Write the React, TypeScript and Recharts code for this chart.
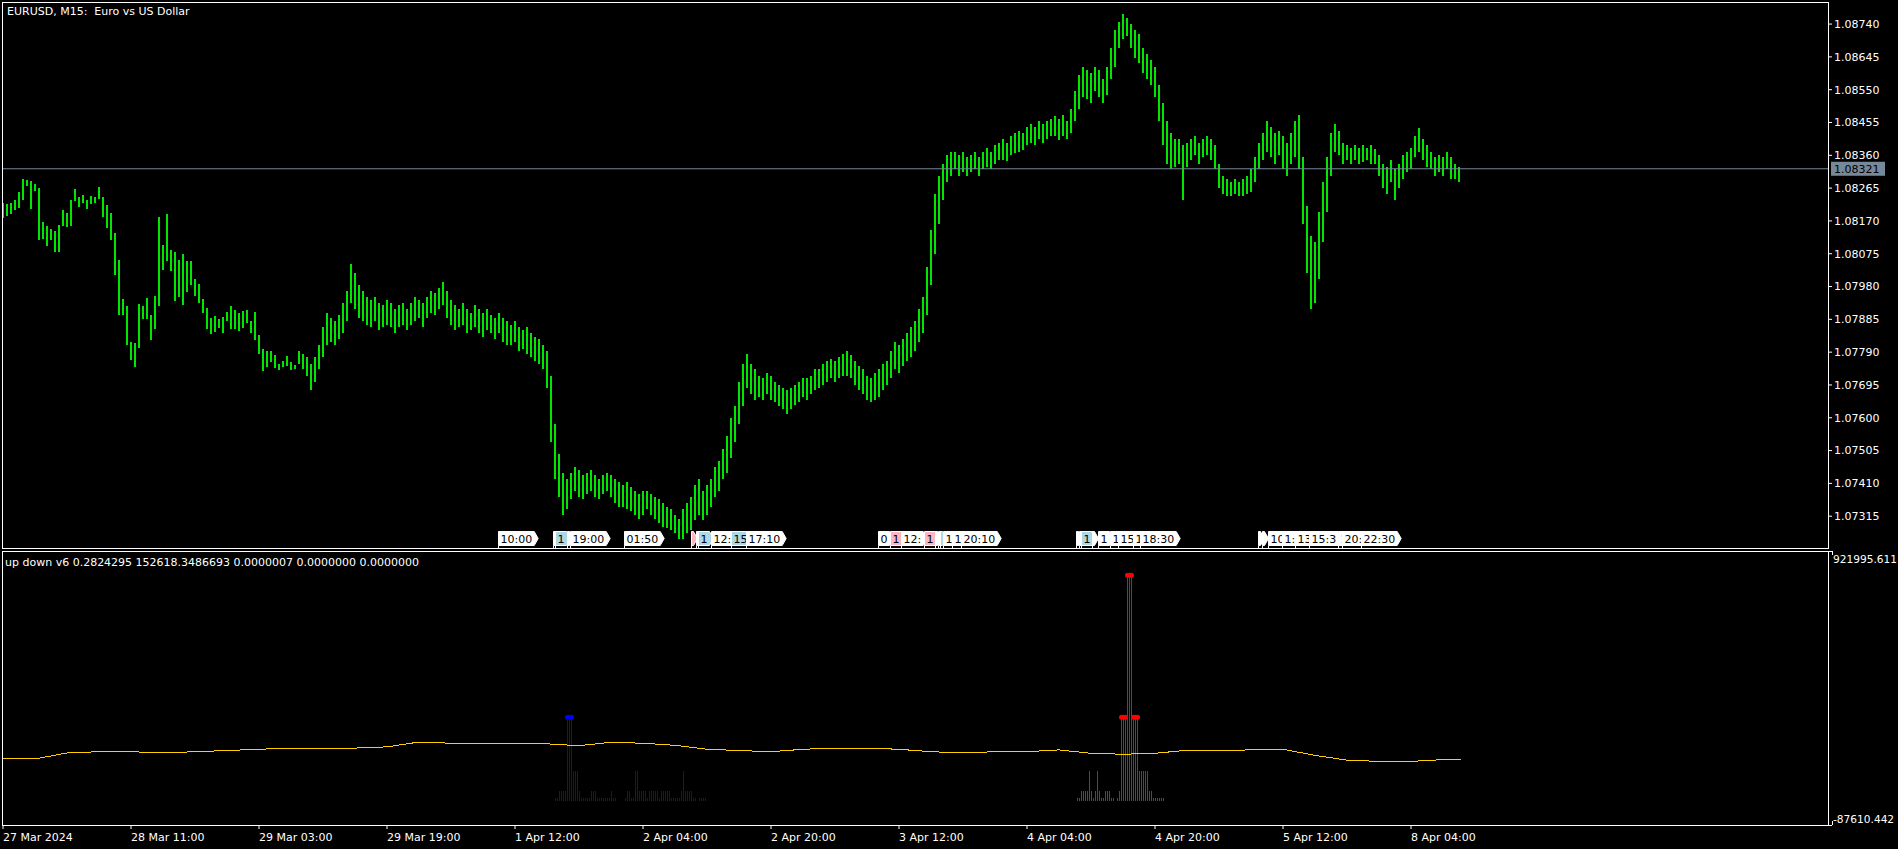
import React from 'react'
import { ComposedChart, Bar, Line, Scatter, XAxis, YAxis, ReferenceLine } from 'recharts'

const FONT = '"DejaVu Sans", Tahoma, sans-serif'

// EURUSD M15 from 27 Mar 2024 19:00, every two M15 bars drawn as one (high / low)
const barHigh = [
  1.08223, 1.08219, 1.08221, 1.08232, 1.08253, 1.0829, 1.08288, 1.08285, 1.08278, 1.08264,
  1.08167, 1.08155, 1.08146, 1.0814, 1.08158, 1.08201, 1.08192, 1.0823, 1.08261, 1.08238,
  1.08244, 1.08232, 1.08243, 1.0824, 1.08267, 1.0824, 1.08216, 1.08192, 1.08134, 1.08056,
  1.07945, 1.07924, 1.0782, 1.07817, 1.07929, 1.07923, 1.07948, 1.07897, 1.07953, 1.0818,
  1.081, 1.0819, 1.08085, 1.08081, 1.08056, 1.08074, 1.08053, 1.08053, 1.08003, 1.07987,
  1.07943, 1.07919, 1.0789, 1.07894, 1.07885, 1.07892, 1.07905, 1.07923, 1.07912, 1.07902,
  1.07909, 1.07912, 1.07881, 1.07905, 1.07841, 1.07798, 1.07792, 1.07794, 1.07781, 1.07755,
  1.07765, 1.07778, 1.07762, 1.07752, 1.07792, 1.07785, 1.07775, 1.07757, 1.07775, 1.0781,
  1.07862, 1.07904, 1.0789, 1.0788, 1.07897, 1.07933, 1.07968, 1.08045, 1.0802, 1.07985,
  1.07968, 1.0795, 1.0794, 1.0795, 1.07933, 1.07926, 1.0794, 1.07933, 1.07915, 1.07926,
  1.07933, 1.07915, 1.07933, 1.0795, 1.0794, 1.07933, 1.0795, 1.07968, 1.07961, 1.07975,
  1.07992, 1.07968, 1.0794, 1.07926, 1.07915, 1.07933, 1.07915, 1.07904, 1.07926, 1.07915,
  1.07904, 1.07915, 1.07897, 1.0789, 1.07904, 1.0789, 1.0788, 1.07869, 1.0788, 1.07862,
  1.07855, 1.07862, 1.07845, 1.07834, 1.07827, 1.0781, 1.07792, 1.07722, 1.07582, 1.07494,
  1.07441, 1.07424, 1.07441, 1.07458, 1.07448, 1.07434, 1.07441, 1.07448, 1.07434, 1.07424,
  1.07434, 1.07441, 1.07434, 1.07424, 1.07413, 1.07406, 1.07413, 1.07399, 1.07388, 1.07378,
  1.07388, 1.07388, 1.07378, 1.07371, 1.07364, 1.07353, 1.07343, 1.07336, 1.07318, 1.07307,
  1.07336, 1.07353, 1.07371, 1.07406, 1.07424, 1.07388, 1.07406, 1.07424, 1.07458, 1.07476,
  1.07511, 1.07546, 1.076, 1.07634, 1.07704, 1.07757, 1.07785, 1.07757, 1.0774, 1.07722,
  1.07715, 1.07729, 1.07722, 1.07704, 1.07694, 1.07687, 1.0768, 1.07687, 1.07694, 1.07704,
  1.07715, 1.07715, 1.07722, 1.0774, 1.0774, 1.07757, 1.07764, 1.07771, 1.07764, 1.07775,
  1.07785, 1.07792, 1.07782, 1.07764, 1.0775, 1.0774, 1.07722, 1.07715, 1.07729, 1.0774,
  1.07757, 1.07764, 1.07792, 1.0782, 1.0781, 1.07827, 1.07845, 1.07862, 1.0788, 1.07915,
  1.0795, 1.08038, 1.08143, 1.08248, 1.08301, 1.08336, 1.08361, 1.08371, 1.08371, 1.08361,
  1.08371, 1.08354, 1.08361, 1.08371, 1.08354, 1.08371, 1.08382, 1.08371, 1.08389, 1.08396,
  1.08406, 1.08396, 1.08417, 1.08424, 1.08431, 1.08424, 1.08441, 1.08452, 1.08441, 1.08459,
  1.08452, 1.08459, 1.08466, 1.08473, 1.08466, 1.08477, 1.08459, 1.08494, 1.08547, 1.08592,
  1.08617, 1.08606, 1.08599, 1.08617, 1.08606, 1.08582, 1.08617, 1.0867, 1.08722, 1.08747,
  1.08768, 1.08757, 1.0874, 1.08722, 1.08712, 1.0867, 1.08652, 1.08635, 1.08617, 1.08564,
  1.08512, 1.08459, 1.08424, 1.08406, 1.08406, 1.08389, 1.08396, 1.08406, 1.08417, 1.08396,
  1.08406, 1.08417, 1.08406, 1.08389, 1.08336, 1.08301, 1.08291, 1.08284, 1.08291, 1.08284,
  1.08291, 1.08301, 1.08319, 1.08354, 1.08396, 1.08424, 1.08459, 1.08441, 1.08424, 1.08431,
  1.08417, 1.08396, 1.08424, 1.08459, 1.08477, 1.08354, 1.08213, 1.08126, 1.08108, 1.08196,
  1.08284, 1.08354, 1.08424, 1.08452, 1.08431, 1.08396, 1.08389, 1.08382, 1.08389, 1.08382,
  1.08389, 1.08382, 1.08389, 1.08378, 1.08361, 1.08336, 1.08326, 1.08347, 1.08319, 1.08336,
  1.08361, 1.08371, 1.08382, 1.08417, 1.08438, 1.08406, 1.08389, 1.08371, 1.08354, 1.08361,
  1.08354, 1.08371, 1.08354, 1.08336, 1.08326,
]

const barLow = [
  1.08177, 1.08185, 1.0819, 1.08203, 1.08208, 1.08232, 1.08272, 1.08204, 1.08257, 1.08116,
  1.08119, 1.08098, 1.08114, 1.08081, 1.08081, 1.08155, 1.08151, 1.08155, 1.08228, 1.08211,
  1.08222, 1.08204, 1.08219, 1.08221, 1.08233, 1.08182, 1.0815, 1.08114, 1.08013, 1.07897,
  1.07897, 1.0781, 1.07767, 1.07747, 1.07803, 1.07887, 1.07887, 1.07825, 1.07856, 1.07924,
  1.08029, 1.08054, 1.08026, 1.07939, 1.0795, 1.07926, 1.07965, 1.07984, 1.07953, 1.07931,
  1.07902, 1.07858, 1.07842, 1.07849, 1.07861, 1.07846, 1.07881, 1.07858, 1.07857, 1.07852,
  1.0786, 1.07873, 1.07846, 1.07825, 1.07786, 1.07736, 1.07747, 1.07762, 1.07743, 1.07738,
  1.07747, 1.07749, 1.07738, 1.07741, 1.07757, 1.0774, 1.07722, 1.0768, 1.07704, 1.0774,
  1.07775, 1.0781, 1.0782, 1.0781, 1.07827, 1.07845, 1.0788, 1.07933, 1.07915, 1.0789,
  1.0788, 1.07869, 1.07862, 1.0788, 1.07855, 1.07862, 1.07869, 1.07862, 1.07845, 1.07862,
  1.07869, 1.07855, 1.07869, 1.0788, 1.0789, 1.07862, 1.0789, 1.07904, 1.07897, 1.07915,
  1.07926, 1.0789, 1.07869, 1.07855, 1.07862, 1.07869, 1.07845, 1.07855, 1.07862, 1.07845,
  1.07834, 1.07855, 1.07845, 1.07827, 1.07845, 1.0782, 1.0781, 1.0781, 1.0782, 1.07792,
  1.07799, 1.07785, 1.07775, 1.07764, 1.07757, 1.0774, 1.07687, 1.07529, 1.07424, 1.07371,
  1.07318, 1.07336, 1.07364, 1.07388, 1.07371, 1.07364, 1.07378, 1.07388, 1.07371, 1.07364,
  1.07378, 1.07388, 1.07371, 1.07353, 1.07343, 1.07343, 1.07336, 1.07329, 1.07318, 1.07307,
  1.07318, 1.07336, 1.07318, 1.07307, 1.07296, 1.07285, 1.07282, 1.07276, 1.07266, 1.07248,
  1.07248, 1.07266, 1.07276, 1.07303, 1.07318, 1.07303, 1.07318, 1.07343, 1.07371, 1.07388,
  1.07424, 1.07441, 1.07483, 1.07529, 1.07582, 1.07634, 1.07687, 1.07669, 1.07652, 1.07659,
  1.07652, 1.07669, 1.07652, 1.07645, 1.07634, 1.07624, 1.0761, 1.07624, 1.07638, 1.07645,
  1.07659, 1.07652, 1.07669, 1.0768, 1.07687, 1.07694, 1.07704, 1.07715, 1.07704, 1.07715,
  1.07722, 1.07722, 1.07715, 1.07694, 1.0768, 1.07669, 1.07652, 1.07645, 1.07652, 1.07659,
  1.0768, 1.07694, 1.07715, 1.0774, 1.07729, 1.0775, 1.07764, 1.07775, 1.07792, 1.0782,
  1.07845, 1.07897, 1.07985, 1.08073, 1.08161, 1.08231, 1.08284, 1.08301, 1.08319, 1.08301,
  1.08312, 1.08301, 1.08312, 1.08319, 1.08301, 1.08319, 1.08326, 1.08319, 1.08336, 1.08347,
  1.08347, 1.08343, 1.08361, 1.08368, 1.08371, 1.08375, 1.08389, 1.08396, 1.08389, 1.08406,
  1.08396, 1.08406, 1.08417, 1.08417, 1.08403, 1.08417, 1.08406, 1.08424, 1.08459, 1.08494,
  1.08529, 1.08522, 1.08512, 1.08547, 1.08529, 1.08512, 1.08536, 1.08582, 1.08617, 1.0867,
  1.08698, 1.08705, 1.0867, 1.08642, 1.08627, 1.08599, 1.08582, 1.08564, 1.08529, 1.08459,
  1.08389, 1.08336, 1.08319, 1.08326, 1.08336, 1.08231, 1.08326, 1.08347, 1.08361, 1.08336,
  1.08354, 1.08361, 1.08347, 1.08319, 1.08266, 1.08248, 1.08241, 1.08241, 1.08248, 1.08241,
  1.08241, 1.08248, 1.08255, 1.08284, 1.08319, 1.08347, 1.08371, 1.08354, 1.08336, 1.08361,
  1.08319, 1.08301, 1.08336, 1.08354, 1.08319, 1.08161, 1.0802, 1.07915, 1.07933, 1.08003,
  1.08108, 1.08196, 1.08301, 1.08371, 1.08361, 1.08336, 1.08347, 1.08336, 1.08347, 1.08336,
  1.0834, 1.08347, 1.08336, 1.08336, 1.08301, 1.08266, 1.08248, 1.08284, 1.08231, 1.08266,
  1.08291, 1.08312, 1.08319, 1.08354, 1.08371, 1.08347, 1.08326, 1.08319, 1.08301, 1.08312,
  1.08301, 1.08319, 1.08291, 1.08291, 1.08284,
]

const lastPrice = 1.08321

const priceTicks = [
  1.0874, 1.08645, 1.0855, 1.08455, 1.0836, 1.08265, 1.0817, 1.08075,
  1.0798, 1.07885, 1.0779, 1.07695, 1.076, 1.07505, 1.0741, 1.07315,
]

// positions are M15 bar numbers
const timeTicks = [0, 64, 128, 192, 256, 320, 384, 448, 512, 576, 640, 704]
const timeLabels = [
  '27 Mar 2024', '28 Mar 11:00', '29 Mar 03:00', '29 Mar 19:00', '1 Apr 12:00', '2 Apr 04:00',
  '2 Apr 20:00', '3 Apr 12:00', '4 Apr 04:00', '4 Apr 20:00', '5 Apr 12:00', '8 Apr 04:00',
]

// up down v6 indicator
const signalTimes = [
  0, 16, 32, 48, 64, 80, 96, 112, 128, 144, 160, 176, 192, 208, 224, 240, 256, 272, 288, 304,
  320, 336, 352, 368, 384, 400, 416, 432, 448, 464, 480, 496, 512, 528, 544, 560, 576, 592,
  608, 624, 640, 656, 672, 688, 704, 720, 729,
]
const signal = [
  155658, 155658, 177959, 182419, 182419, 177959, 182419, 186880, 191340, 195800,
  195800, 195800, 200261, 218102, 213642, 213642, 213642, 211412, 204721, 217210,
  213642, 206059, 191340, 186880, 182419, 191340, 195800, 195800, 191340, 182419,
  177959, 182419, 182419, 189110, 176621, 173053, 176621, 187772, 186880, 189110,
  191340, 169039, 151198, 146737, 146737, 153428, 152618,
]

const upStart = 276
const upHist = [
  12500, 12500, 39000, 39000, 39000, 39000, 309500, 309500, 309500, 113000,
  113000, 113000, 39000, 12500, 12500, 12500, 12500, 12500, 39000, 39000,
  39000, 12500, 12500, 12500, 12500, 12500, 12500, 12500, 39000, 12500,
  12500, 2500, 2500, 2500, 2500, 12500, 39000, 39000, 12500, 12500,
  113000, 113000, 39000, 39000, 39000, 39000, 12500, 39000, 39000, 39000,
  39000, 39000, 12500, 39000, 39000, 39000, 39000, 39000, 12500, 12500,
  12500, 12500, 12500, 39000, 113000, 39000, 39000, 39000, 39000, 12500,
  12500, 0, 12500, 12500, 12500, 12500, 2500,
]
const downStart = 537
const downHist = [
  12500, 12500, 39000, 39000, 39000, 39000, 113000, 39000, 12500, 39000,
  113000, 39000, 12500, 12500, 39000, 39000, 39000, 12500, 12500, 2500,
  12500, 39000, 309000, 309000, 309000, 832700, 832700, 832700, 309000, 309000,
  309000, 113000, 113000, 113000, 113000, 113000, 39000, 39000, 12500, 12500,
  12500, 12500, 12500, 12500, 2500,
]
const dotLevel = 300000

const indMin = -87610.442
const indMax = 921995.611

// chart objects along the bottom of the price window
const labelTimes = [
  247.5, 275, 276, 282, 283.5, 310.5, 344, 346.5, 347.5, 354, 364, 371.5,
  437.5, 443.5, 449, 460.5, 466, 467.5, 468.5, 470, 474.5, 479,
  536.5, 538, 539, 544.5, 547.5, 553.5, 557.5, 565, 568.5,
  627.5, 629.5, 632.5, 639.5, 646, 653, 667.5, 669.5, 679,
]
const labelTexts = [
  '10:00', '', '1', '', '19:00', '01:50', '', '', '1', '12:', '15', '17:10',
  '0', '1', '12:', '1', '', '', '', '1', '1', '20:10',
  '', '', '1', '', '1', '1', '15', '1', '18:30',
  '', '', '10', '1:', '13', '15:3', '1', '20:', '22:30',
]
const labelKinds = [
  '', '', 'up', '', '', '', 'down', '', 'up', '', 'up', '',
  '', 'down', '', 'down', '', '', 'up', '', '', '',
  '', '', 'up', '', '', '', '', '', '',
  '', '', '', '', '', '', '', '', '',
]
const labelPrice = 1.07253

const priceRows = barHigh.map((h, k) => ({ t: 2 * k, range: [barLow[k], h] }))
const histRows = [
  ...upHist.map((v, i) => ({ t: upStart + i, up: v, down: 0 })),
  ...downHist.map((v, i) => ({ t: downStart + i, up: 0, down: v })),
]
const signalRows = signalTimes.map((t, i) => ({ t, v: signal[i] }))
const upDots = histRows.filter((r) => r.up >= dotLevel).map((r) => ({ t: r.t, v: r.up }))
const downDots = histRows.filter((r) => r.down >= dotLevel).map((r) => ({ t: r.t, v: r.down }))
const labelRows = labelTimes.map((t, i) => ({ t, p: labelPrice, text: labelTexts[i], kind: labelKinds[i] }))

const X_DOMAIN: [number, number] = [0, 912.5]

const textWidth = (s: string) => [...s].reduce((w, ch) => w + (ch === ':' ? 3.7 : 7), 0)

function PriceBar(p: any) {
  const cx = Math.round(p.x + p.width / 2)
  return <rect x={cx - 1} y={p.y} width={2} height={Math.max(1, p.height)} fill="#00E600" shapeRendering="crispEdges" />
}

const histBar = (color: string) => (p: any) => {
  if (!p.height) return <g />
  const cx = Math.round(p.x + p.width / 2)
  return <rect x={cx} y={p.y} width={1} height={p.height} fill={color} shapeRendering="crispEdges" />
}

const dot = (color: string) => (p: any) => <circle cx={p.cx + 0.5} cy={p.cy} r={2.5} fill={color} />

function Tag(p: any) {
  const { payload } = p
  const x0 = Math.round(p.cx) + 0.5
  const y0 = Math.round(p.cy) - 6.5
  const w = payload.text ? textWidth(payload.text) + 4 : 2
  const bg = payload.kind === 'up' ? '#ADD8E6' : payload.kind === 'down' ? '#FFB6C1' : '#FFFFFF'
  return (
    <g>
      <path d={`M${x0},${y0}H${x0 + w}L${x0 + w + 4},${y0 + 7}L${x0 + w},${y0 + 14}H${x0}Z`} fill={bg} stroke="#fff" />
      <line x1={x0} y1={y0 + 14} x2={x0} y2={y0 + 18} stroke="#fff" />
      {payload.text ? (
        <text x={x0 + 2} y={y0 + 11.5} fill="#000" fontSize={11} fontFamily={FONT}>{payload.text}</text>
      ) : null}
    </g>
  )
}

function LastPriceTag(p: any) {
  const vb = p.viewBox || {}
  const x = vb.x + vb.width + 3
  const y = vb.y
  return (
    <g>
      <rect x={x} y={y - 7} width={54} height={14} fill="#778899" />
      <text x={x + 3} y={y + 4.5} fill="#000" fontSize={11} fontFamily={FONT}>{lastPrice.toFixed(5)}</text>
    </g>
  )
}

function TimeTick(p: any) {
  const i = timeTicks.indexOf(p.payload.value)
  return (
    <g>
      <line x1={p.x} y1={p.y} x2={p.x} y2={p.y + 4} stroke="#fff" />
      <text x={p.x} y={p.y + 16} fill="#fff" fontSize={11} fontFamily={FONT}>{timeLabels[i]}</text>
    </g>
  )
}

function IndTick(p: any) {
  const top = p.payload.value > 0
  const y = p.y
  return (
    <g>
      <line x1={p.x} y1={y + 0.5} x2={p.x + 4} y2={y + 0.5} stroke="#fff" />
      <line x1={p.x + 4.5} y1={y} x2={p.x + 4.5} y2={top ? y + 4 : y - 4} stroke="#fff" />
      <text x={p.x + 5} y={top ? y + 12 : y - 2} fill="#fff" fontSize={10.6} fontFamily={FONT}>
        {p.payload.value.toFixed(3)}
      </text>
    </g>
  )
}

const frame = (top: number, height: number): React.CSSProperties => ({
  position: 'absolute', left: 2, top, width: 1827, height, border: '1px solid #fff', boxSizing: 'border-box',
})

export default function App() {
  return (
    <div style={{ position: 'absolute', left: 0, top: 0, width: 1898, height: 849, background: '#000', overflow: 'hidden' }}>
      <div style={frame(2, 547)} />
      <div style={frame(551, 275)} />

      <div style={{ position: 'absolute', left: 0, top: 0 }}>
        <ComposedChart width={1898} height={549} data={priceRows} margin={{ top: 3, right: 0, bottom: 0, left: 3 }}>
          <XAxis type="number" dataKey="t" domain={X_DOMAIN} allowDataOverflow hide />
          <YAxis
            orientation="right"
            width={70}
            domain={[1.0722, 1.08801]}
            allowDataOverflow
            ticks={priceTicks}
            interval={0}
            tickFormatter={(v: number) => v.toFixed(5)}
            tick={{ fill: '#fff', fontSize: 11, fontFamily: FONT }}
            tickLine={{ stroke: '#fff' }}
            tickSize={4}
            tickMargin={2}
            axisLine={false}
          />
          <Bar dataKey="range" barSize={2} shape={PriceBar} isAnimationActive={false} />
          <ReferenceLine y={lastPrice} stroke="#778899" strokeWidth={1} label={LastPriceTag} />
          <Scatter data={labelRows} dataKey="p" shape={Tag} isAnimationActive={false} />
        </ComposedChart>
      </div>

      <div style={{ position: 'absolute', left: 0, top: 551 }}>
        <ComposedChart width={1898} height={298} data={histRows} margin={{ top: 0, right: 0, bottom: 0, left: 3 }}>
          <XAxis
            type="number"
            dataKey="t"
            domain={X_DOMAIN}
            allowDataOverflow
            height={24}
            ticks={timeTicks}
            interval={0}
            tick={<TimeTick />}
            tickSize={0}
            tickMargin={0}
            tickLine={false}
            axisLine={false}
          />
          <YAxis
            orientation="right"
            width={70}
            domain={[indMin, indMax]}
            allowDataOverflow
            ticks={[indMax, indMin]}
            interval={0}
            tick={<IndTick />}
            tickSize={0}
            tickMargin={0}
            tickLine={false}
            axisLine={false}
          />
          <Bar dataKey="up" stackId="h" barSize={1} shape={histBar('#0000FF')} isAnimationActive={false} />
          <Bar dataKey="down" stackId="h" barSize={1} shape={histBar('#FF0000')} isAnimationActive={false} />
          <Line
            data={signalRows}
            dataKey="v"
            type="linear"
            stroke="#FFD000"
            strokeWidth={1}
            shapeRendering="crispEdges"
            dot={false}
            activeDot={false}
            isAnimationActive={false}
          />
          <Scatter data={upDots} dataKey="v" shape={dot('#0000FF')} isAnimationActive={false} />
          <Scatter data={downDots} dataKey="v" shape={dot('#FF0000')} isAnimationActive={false} />
        </ComposedChart>
      </div>

      <div style={{ position: 'absolute', left: 7, top: 5, color: '#fff', fontFamily: FONT, fontSize: 11, lineHeight: '13px', whiteSpace: 'pre' }}>
        EURUSD, M15:  Euro vs US Dollar
      </div>
      <div style={{ position: 'absolute', left: 5, top: 556, color: '#fff', fontFamily: FONT, fontSize: 11, lineHeight: '13px', whiteSpace: 'pre' }}>
        up down v6 0.2824295 152618.3486693 0.0000007 0.0000000 0.0000000
      </div>
    </div>
  )
}
